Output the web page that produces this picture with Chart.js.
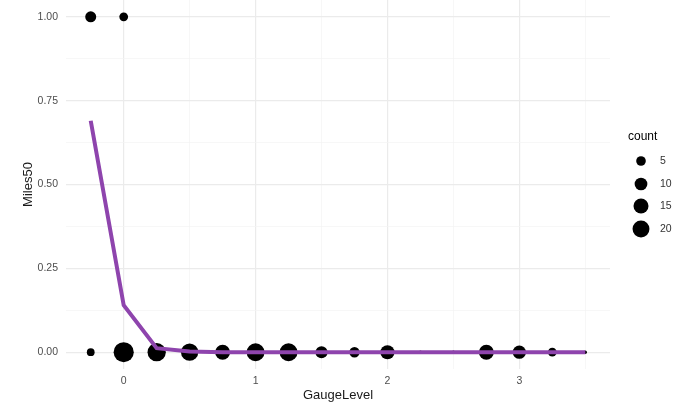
<!DOCTYPE html>
<html>
<head>
<meta charset="utf-8">
<script src="https://cdn.jsdelivr.net/npm/chart.js@4.4.1/dist/chart.umd.min.js"></script>
<style>
  html, body { margin: 0; padding: 0; background: #ffffff; }
  #wrap { position: relative; width: 678px; height: 409px; }
</style>
</head>
<body>
<div id="wrap"><canvas id="chart" width="678" height="409"></canvas></div>
<script>
// Observed outcomes (Miles50 = 0 or 1) at each gauge level, with how many trips share that spot
const pointGauge = [-0.25, 0, 0.25, 0.5, 0.75, 1, 1.25, 1.5, 1.75, 2, 2.25, 2.5, 2.75, 3, 3.25, 3.5, -0.25, 0];
const pointMiles = [0, 0, 0, 0, 0, 0, 0, 0, 0, 0, 0, 0, 0, 0, 0, 0, 1, 1];
const pointCount = [3, 30, 24, 21, 15, 23, 23, 9, 6, 13, 1, 1, 15, 11, 4, 1, 7, 4];

// Fitted share of Miles50 at each gauge level
const lineGauge = [-0.25, 0, 0.25, 0.5, 0.75, 1, 1.25, 1.5, 1.75, 2, 2.25, 2.5, 2.75, 3, 3.25, 3.5];
const lineMiles = [0.69, 0.14, 0.012, 0.002, 0, 0, 0, 0, 0, 0, 0, 0, 0, 0, 0, 0];

// Axis ticks (labelled majors, unlabelled minors) and legend breaks
const xMajor = [0, 1, 2, 3];
const xMinor = [0.5, 1.5, 2.5, 3.5];
const yMajor = [0, 0.25, 0.5, 0.75, 1];
const yMinor = [0.125, 0.375, 0.625, 0.875];
const countBreaks = [5, 10, 15, 20];

const FONT = '"Liberation Sans", Arial, Helvetica, sans-serif';
const countMin = 1, countMax = 31;

// Area-style size scale: radius grows with sqrt of the count
function sizeOf(n) {
  const t = Math.max(0, (n - countMin) / (countMax - countMin));
  return 1.7 * (1 + 5 * Math.sqrt(t));
}

const bubbles = pointGauge.map((g, i) => ({ x: g, y: pointMiles[i], r: sizeOf(pointCount[i]) }));
const fitted = lineGauge.map((g, i) => ({ x: g, y: lineMiles[i] }));

function setTicks(major, minor) {
  return function (scale) {
    scale.ticks = major.map(v => ({ value: v, major: true }))
      .concat(minor.map(v => ({ value: v, major: false })))
      .sort((a, b) => a.value - b.value);
  };
}

const gridColor = ctx => ctx.tick && ctx.tick.major ? '#ebebeb' : '#f3f3f3';
const gridWidth = ctx => ctx.tick && ctx.tick.major ? 1.2 : 0.7;

// Legend for the point sizes
const sizeLegend = {
  id: 'sizeLegend',
  afterDraw(chart) {
    const c = chart.ctx;
    c.save();
    c.fillStyle = '#000000';
    c.font = '12px ' + FONT;
    c.textAlign = 'left';
    c.textBaseline = 'middle';
    c.fillText('count', 628, 137);
    const cx = 641, ys = [161, 184, 206, 229];
    countBreaks.forEach((b, i) => {
      c.beginPath();
      c.arc(cx, ys[i], sizeOf(b), 0, Math.PI * 2);
      c.fillStyle = '#000000';
      c.fill();
      c.fillStyle = '#333333';
      c.font = '10.5px ' + FONT;
      c.fillText(String(b), 660, ys[i] + 0.5);
    });
    c.restore();
  }
};

new Chart(document.getElementById('chart'), {
  type: 'bubble',
  data: {
    datasets: [
      {
        type: 'line',
        data: fitted,
        borderColor: '#8e44ad',
        borderWidth: 4,
        pointRadius: 0,
        tension: 0,
        fill: false,
        order: 0
      },
      {
        type: 'bubble',
        data: bubbles,
        backgroundColor: '#000000',
        borderColor: '#000000',
        borderWidth: 0,
        order: 1
      }
    ]
  },
  options: {
    responsive: false,
    animation: false,
    events: [],
    layout: { autoPadding: false, padding: { left: 0, right: 68, top: 0, bottom: 0 } },
    plugins: { legend: { display: false }, tooltip: { enabled: false } },
    scales: {
      x: {
        type: 'linear',
        min: -0.4375,
        max: 3.6875,
        afterBuildTicks: setTicks(xMajor, xMinor),
        afterFit: s => { s.height = 40; s.paddingLeft = 0; s.paddingRight = 0; },
        border: { display: false },
        grid: { color: gridColor, lineWidth: gridWidth, drawTicks: false },
        ticks: {
          padding: 6,
          color: '#4d4d4d',
          font: { family: FONT, size: 10.5 },
          callback: function (v, i, ticks) { return ticks[i].major ? String(v) : ''; }
        },
        title: {
          display: true,
          text: 'GaugeLevel',
          color: '#1a1a1a',
          font: { family: FONT, size: 13 },
          padding: { top: 0, bottom: 6 }
        }
      },
      y: {
        type: 'linear',
        min: -0.05,
        max: 1.05,
        afterBuildTicks: setTicks(yMajor, yMinor),
        afterFit: s => { s.width = 66; s.paddingTop = 0; s.paddingBottom = 0; },
        border: { display: false },
        grid: { color: gridColor, lineWidth: gridWidth, drawTicks: false },
        ticks: {
          padding: 8,
          color: '#4d4d4d',
          font: { family: FONT, size: 10.5 },
          callback: function (v, i, ticks) { return ticks[i].major ? Number(v).toFixed(2) : ''; }
        },
        title: {
          display: true,
          text: 'Miles50',
          color: '#1a1a1a',
          font: { family: FONT, size: 13 },
          padding: { top: 21, bottom: 0 }
        }
      }
    }
  },
  plugins: [sizeLegend]
});
</script>
</body>
</html>
